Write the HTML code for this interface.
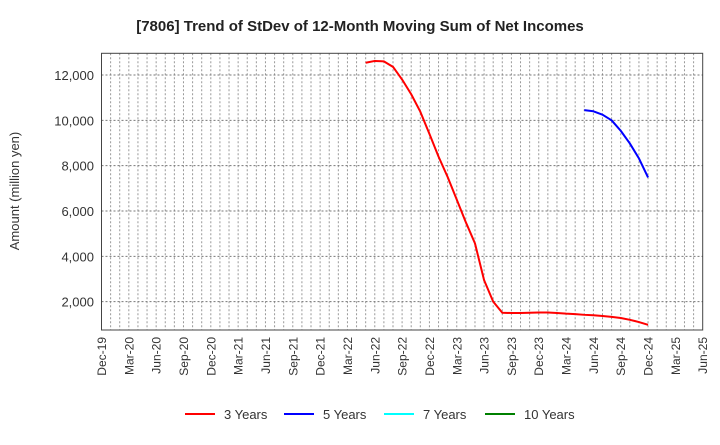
<!DOCTYPE html>
<html><head><meta charset="utf-8"><style>
body{margin:0;background:#fff;font-family:"Liberation Sans",sans-serif}
svg text{font-family:"Liberation Sans",sans-serif;fill:#333}
</style></head><body>
<svg id="chart" width="720" height="440" xmlns="http://www.w3.org/2000/svg">
<text x="360" y="31" text-anchor="middle" font-size="15" font-weight="bold" style="fill:#222">[7806]  Trend of StDev of 12-Month Moving Sum of Net Incomes</text>
<g id="grid"></g>
<g id="yticks"></g>
<g id="xticks"></g>
<text transform="translate(19,191) rotate(-90)" text-anchor="middle" font-size="13">Amount (million yen)</text>
<g id="series"></g>
<rect x="101.5" y="53.3" width="601.2" height="276.7" fill="none" stroke="#444" stroke-width="1"/>
<g id="legend"></g>
</svg>
<script>
const xLabels=["Dec-19","Mar-20","Jun-20","Sep-20","Dec-20","Mar-21","Jun-21","Sep-21","Dec-21","Mar-22","Jun-22","Sep-22","Dec-22","Mar-23","Jun-23","Sep-23","Dec-23","Mar-24","Jun-24","Sep-24","Dec-24","Mar-25","Jun-25"];
const yTicks=[2000,4000,6000,8000,10000,12000];
const red3Start=29; // May-22 (months after Dec-19)
const red3=[12540,12620,12600,12360,11800,11150,10380,9400,8400,7500,6500,5500,4570,2950,2000,1510,1500,1500,1510,1520,1520,1500,1470,1450,1420,1400,1370,1330,1280,1200,1100,980];
const blue5Start=53; // May-24
const blue5=[10450,10400,10250,10000,9540,8980,8320,7480];
const seriesNames=["3 Years","5 Years","7 Years","10 Years"];
const seriesColors=["#ff0000","#0000ff","#00ffff","#008000"];

const L=101.5,R=702.7,T=53.3,B=330,NM=66;
const X=m=>L+(R-L)*m/NM;
const Y=v=>347-v*0.022667;
const NS="http://www.w3.org/2000/svg";
function mk(t,a,p){const e=document.createElementNS(NS,t);for(const k in a)e.setAttribute(k,a[k]);p.appendChild(e);return e;}
const grid=document.getElementById('grid');
for(let m=1;m<NM;m++){
 const l=mk('line',{x1:X(m),x2:X(m),y1:T,y2:B,stroke:'#999','stroke-dasharray':'2,2','stroke-width':1},grid);
 
 
}
const yt=document.getElementById('yticks');
yTicks.forEach(v=>{
 const l=mk('line',{x1:L,x2:R,y1:Y(v),y2:Y(v),stroke:'#777','stroke-dasharray':'2,2','stroke-width':1},grid);
 
 
 const t=mk('text',{x:94,y:Y(v)+5,'text-anchor':'end','font-size':13},yt);
 t.textContent=v.toLocaleString('en-US');
 
 
});
const xt=document.getElementById('xticks');
xLabels.forEach((s,i)=>{
 const x=X(i*3);
 const t=mk('text',{transform:`translate(${x+4.5},337) rotate(-90)`,'text-anchor':'end','font-size':12},xt);
 t.textContent=s;
 
 
});
const sg=document.getElementById('series');
function line(arr,start,color,name){
 const p=mk('polyline',{points:arr.map((v,i)=>X(start+i)+','+Y(v)).join(' '),fill:'none',stroke:color,'stroke-width':2,'stroke-linejoin':'round'},sg);
 
 
}
line(red3,red3Start,seriesColors[0],'line-3-years');
line(blue5,blue5Start,seriesColors[1],'line-5-years');
const lg=document.getElementById('legend');
const lx=[185,284,384,485];
seriesNames.forEach((n,i)=>{
 const g=mk('g',{},lg);
 
 
 mk('line',{x1:lx[i],x2:lx[i]+30,y1:414,y2:414,stroke:seriesColors[i],'stroke-width':2},g);
 const t=mk('text',{x:lx[i]+39,y:419,'font-size':13},g);
 t.textContent=n;
});
</script>
</body></html>
